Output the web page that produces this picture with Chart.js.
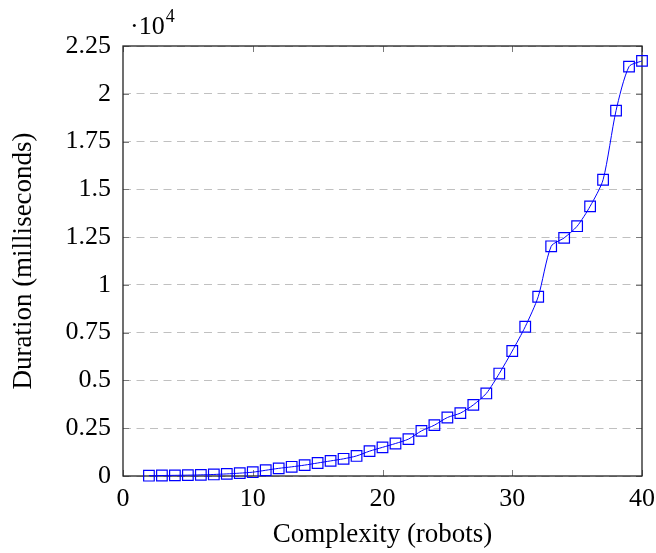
<!DOCTYPE html>
<html><head><meta charset="utf-8">
<script src="https://cdn.jsdelivr.net/npm/chart.js@4/dist/chart.umd.min.js"></script>
<style>html,body{margin:0;padding:0;background:#fff}</style>
</head><body>
<canvas id="c" width="656" height="553"></canvas>
<script>
const robots = [2,3,4,5,6,7,8,9,10,11,12,13,14,15,16,17,18,19,20,21,22,23,24,25,26,27,28,29,30,31,32,33,34,35,36,37,38,39,40];
const durations = [15,25,35,45,60,80,110,150,200,300,400,480,570,680,790,900,1050,1300,1500,1700,1930,2360,2660,3060,3290,3720,4320,5360,6540,7810,9380,12020,12460,13070,14110,15500,19120,21420,21720];
const yTickValues = [0,2500,5000,7500,10000,12500,15000,17500,20000,22500];
const yTickLabels = ['0','0.25','0.5','0.75','1','1.25','1.5','1.75','2','2.25'];
const xTickValues = [0,10,20,30,40];
const xTitle = 'Complexity (robots)';
const yTitle = 'Duration (milliseconds)';
const yExponent = '·10';
const FONT = '"Liberation Serif", "DejaVu Serif", serif';

const framePlugin = {
  id: 'frame',
  beforeDatasetsDraw(chart) {
    const {ctx, chartArea: a, scales: {x, y}} = chart;
    ctx.save();
    ctx.strokeStyle = '#7a7a7a';
    ctx.lineWidth = 1;
    const tl = 6;
    yTickValues.forEach(v => {
      const py = Math.round(y.getPixelForValue(v)) + 0.5;
      ctx.beginPath();
      ctx.moveTo(a.left, py); ctx.lineTo(a.left + tl, py);
      ctx.moveTo(a.right, py); ctx.lineTo(a.right - tl, py);
      ctx.stroke();
    });
    xTickValues.forEach(v => {
      const px = Math.round(x.getPixelForValue(v)) + 0.5;
      ctx.beginPath();
      ctx.moveTo(px, a.bottom); ctx.lineTo(px, a.bottom - tl);
      ctx.moveTo(px, a.top); ctx.lineTo(px, a.top + tl);
      ctx.stroke();
    });
    ctx.strokeStyle = '#222';
    ctx.lineWidth = 1.3;
    ctx.strokeRect(a.left, a.top, a.right - a.left, a.bottom - a.top);
    // exponent label
    ctx.fillStyle = '#000';
    ctx.font = '26px ' + FONT;
    ctx.textBaseline = 'alphabetic';
    ctx.textAlign = 'left';
    ctx.fillText(yExponent, 130, 34);
    const w = ctx.measureText(yExponent).width;
    ctx.font = '18px ' + FONT;
    ctx.fillText('4', 130 + w + 1, 22);
    ctx.restore();
  }
};

new Chart(document.getElementById('c'), {
  type: 'line',
  data: {
    datasets: [{
      data: robots.map((r, i) => ({x: r, y: durations[i]})),
      borderColor: '#0000ff',
      borderWidth: 1,
      backgroundColor: 'rgba(0,0,0,0)',
      pointStyle: 'rect',
      pointRadius: 7.5,
      pointBorderWidth: 1.2,
      pointBorderColor: '#0000ff',
      pointBackgroundColor: 'rgba(0,0,0,0)',
      tension: 0.25,
      clip: false
    }]
  },
  options: {
    responsive: false,
    animation: false,
    layout: {padding: {top: 46, right: 14, left: 0, bottom: 0}},
    plugins: {legend: {display: false}, tooltip: {enabled: false}},
    scales: {
      x: {
        type: 'linear', min: 0, max: 40,
        afterBuildTicks(s) { s.ticks = xTickValues.map(v => ({value: v})); },
        afterFit(s) { s.height = 77; s.paddingLeft = 0; s.paddingRight = 0; },
        grid: {display: false, drawTicks: false},
        border: {display: false},
        ticks: {color: '#000', font: {family: FONT, size: 26}, padding: 8, maxRotation: 0},
        title: {display: true, text: xTitle, color: '#000', font: {family: FONT, size: 27}, padding: {top: 0, bottom: 2}}
      },
      y: {
        type: 'linear', min: 0, max: 22500,
        afterBuildTicks(s) { s.ticks = yTickValues.map(v => ({value: v})); },
        afterFit(s) { s.width = 123; s.paddingTop = 0; s.paddingBottom = 0; },
        grid: {display: true, drawTicks: false, color: '#c0c0c0', lineWidth: 1,
               borderDash: [8, 5.5]},
        border: {display: false, dash: [8, 5.5]},
        ticks: {color: '#000', font: {family: FONT, size: 26}, padding: 12,
                callback: (v) => yTickLabels[yTickValues.indexOf(v)]},
        title: {display: true, text: yTitle, color: '#000', font: {family: FONT, size: 27}, padding: {top: 8, bottom: 0}}
      }
    }
  },
  plugins: [framePlugin]
});
</script>
</body></html>
